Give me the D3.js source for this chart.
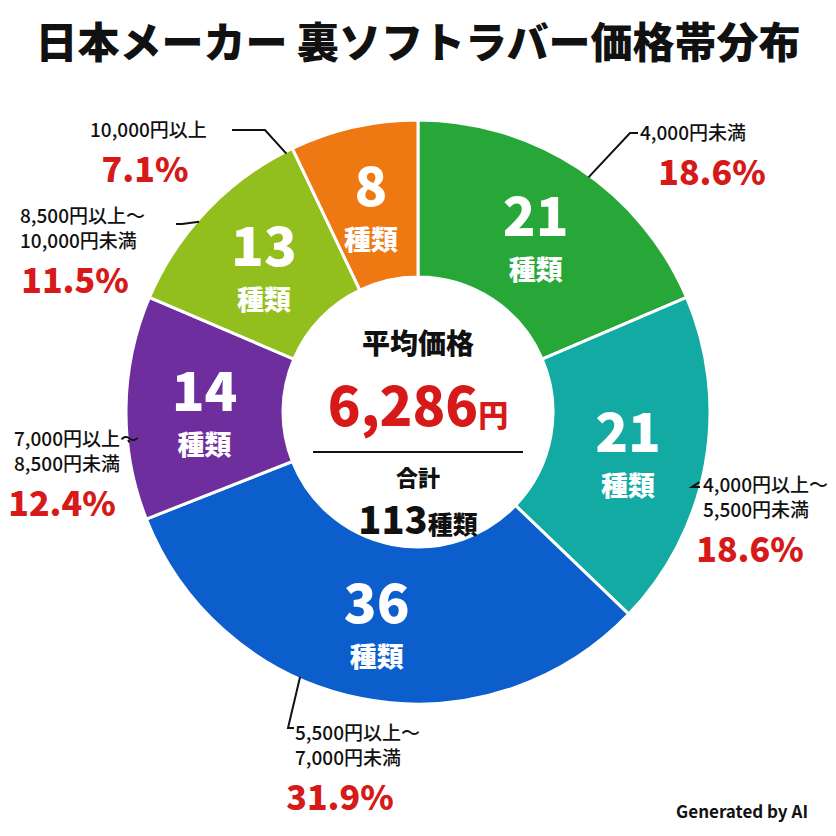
<!DOCTYPE html>
<html>
<head>
<meta charset="utf-8"/>
<script src="https://d3js.org/d3.v7.min.js"></script>
<style>
 body { margin: 0; background: #fff; }
 text { font-family: "Noto Sans CJK JP", "Noto Sans", sans-serif; }
</style>
</head>
<body>
<div id="chart"></div>
<script>
 // data, clockwise from 12 o'clock
 const categories = [
   ["4,000円未満"],
   ["4,000円以上～", "5,500円未満"],
   ["5,500円以上～", "7,000円未満"],
   ["7,000円以上～", "8,500円未満"],
   ["8,500円以上～", "10,000円未満"],
   ["10,000円以上"]
 ];
 const counts = [21, 21, 36, 14, 13, 8];
 const percents = ["18.6%", "18.6%", "31.9%", "12.4%", "11.5%", "7.1%"];
 const colors = ["#27a737", "#12aaa2", "#0b5ecb", "#6f2e9e", "#93bf1e", "#ee7811"];
 const avgPrice = "6,286";
 const total = 113;

 // label layout: text position, leader start angle (deg), elbow, end
 const labelPos = [
   {x: 640, y: 140, ang: 36, ex: 630, ey: 133, tx: 638, pctX: 712},
   {x: 703, y: 492, ang: 104, ex: 692, ey: 487, tx: 700, pctX: 750},
   {x: 295, y: 740, ang: 204, ex: 288, ey: 728, tx: 294, pctX: 340},
   {x: 14, y: 446, ang: -96, ex: 128, ey: 440, tx: 128, pctX: 62},
   {x: 20, y: 223, ang: -49, ex: 182, ey: 224, tx: 176, pctX: 75},
   {x: 90, y: 137, ang: -27, ex: 265, ey: 130, tx: 232, pctX: 145}
 ];

 const W = 836, H = 836, cx = 418, cy = 412, R = 292, r0 = 135;
 const svg = d3.select("#chart").append("svg").attr("width", W).attr("height", H);

 svg.append("text").attr("x", W / 2).attr("y", 58).attr("text-anchor", "middle")
    .attr("font-size", 42).attr("font-weight", 900).attr("fill", "#111")
    .text("日本メーカー 裏ソフトラバー価格帯分布");

 const pie = d3.pie().sort(null).value(d => d)(counts);
 const arc = d3.arc().innerRadius(r0).outerRadius(R);
 const g = svg.append("g").attr("transform", `translate(${cx},${cy})`);

 g.selectAll("path").data(pie).join("path")
   .attr("d", arc).attr("fill", (d, i) => colors[i])
   .attr("stroke", "#fff").attr("stroke-width", 3);

 const mid = d3.arc().innerRadius((R + r0) / 2).outerRadius((R + r0) / 2);
 pie.forEach((d, i) => {
   const [x, y] = mid.centroid(d);
   g.append("text").attr("x", x).attr("y", y + 2).attr("text-anchor", "middle")
     .attr("font-size", 54).attr("font-weight", 800).attr("fill", "#fff").text(d.data);
   g.append("text").attr("x", x).attr("y", y + 46).attr("text-anchor", "middle")
     .attr("font-size", 27).attr("font-weight", 800).attr("fill", "#fff").text("種類");
 });

 // leader lines and outside labels
 pie.forEach((d, i) => {
   const p = labelPos[i];
   const a = p.ang * Math.PI / 180;
   const sx = cx + (R - 2) * Math.sin(a), sy = cy - (R - 2) * Math.cos(a);
   svg.append("polyline")
     .attr("points", `${sx},${sy} ${p.ex},${p.ey} ${p.tx},${p.ey}`)
     .attr("fill", "none").attr("stroke", "#111").attr("stroke-width", 2);
   const lines = categories[i];
   lines.forEach((t, j) => {
     svg.append("text").attr("x", p.x).attr("y", p.y + j * 25)
       .attr("font-size", 19).attr("font-weight", 500).attr("fill", "#111").text(t);
   });
   svg.append("text").attr("x", p.pctX).attr("y", p.y + (lines.length - 1) * 25 + 45)
     .attr("text-anchor", "middle").attr("font-size", 34).attr("font-weight", 800)
     .attr("fill", "#d61a1a").text(percents[i]);
 });

 // center
 svg.append("text").attr("x", cx).attr("y", cy - 58).attr("text-anchor", "middle")
   .attr("font-size", 28).attr("font-weight", 900).attr("fill", "#111").text("平均価格");
 const t = svg.append("text").attr("x", cx).attr("y", cy + 14).attr("text-anchor", "middle")
   .attr("font-weight", 900).attr("fill", "#d61a1a");
 t.append("tspan").attr("font-size", 54).text(avgPrice);
 t.append("tspan").attr("font-size", 30).text("円");
 svg.append("line").attr("x1", cx - 105).attr("x2", cx + 105).attr("y1", cy + 40).attr("y2", cy + 40)
   .attr("stroke", "#111").attr("stroke-width", 2);
 svg.append("text").attr("x", cx).attr("y", cy + 74).attr("text-anchor", "middle")
   .attr("font-size", 22).attr("font-weight", 800).attr("fill", "#111").text("合計");
 const t2 = svg.append("text").attr("x", cx).attr("y", cy + 122).attr("text-anchor", "middle")
   .attr("font-weight", 800).attr("fill", "#111");
 t2.append("tspan").attr("font-size", 38).text(total);
 t2.append("tspan").attr("font-size", 25).text("種類");

 svg.append("text").attr("x", 808).attr("y", 818).attr("text-anchor", "end")
   .attr("font-size", 17).attr("font-weight", 700).attr("fill", "#111").text("Generated by AI");
</script>
</body>
</html>
